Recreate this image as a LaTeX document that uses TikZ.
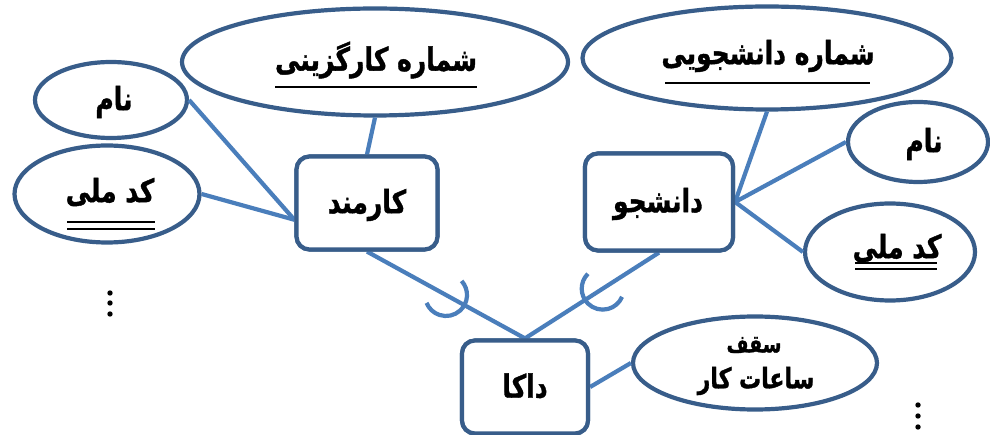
\documentclass[tikz,border=0pt]{standalone}
\usepackage{fontspec}
\usepackage{graphicx}
\usetikzlibrary{shapes.geometric,calc}
\TeXXeTstate=1
\newfontfamily\arabicfont[Script=Arabic, FakeBold=1.3]{DejaVu Sans Bold}
\newcommand\fatext[1]{\scalebox{1}[1.28]{\arabicfont\beginR #1\endR}}
\definecolor{edgeblue}{RGB}{56,93,138}
\definecolor{linkblue}{RGB}{74,126,187}
\tikzset{
  attr/.style={ellipse, draw=edgeblue, line width=4.2pt, fill=white, inner sep=0pt},
  entity/.style={rectangle, rounded corners=13pt, draw=edgeblue, line width=4.2pt, fill=white, inner sep=0pt},
  lbl/.style={inner sep=0pt, font=\fontsize{25}{29}\selectfont},
  midlbl/.style={inner sep=0pt, font=\fontsize{22}{26}\selectfont},
  smalllbl/.style={inner sep=0pt, font=\fontsize{19}{22}\selectfont},
  link/.style={draw=linkblue, line width=4.2pt},
  uline/.style={draw=black, line width=1.8pt},
  hook/.style={draw=linkblue, line width=4.2pt},
  vdot/.style={fill=black}
}
\begin{document}
\begin{tikzpicture}[x=1pt,y=-1pt]
\useasboundingbox (0,0) rectangle (990,435);

% attribute ellipses
\node[attr, minimum width=152pt, minimum height=76pt] (nameL) at (111,100) {};
\node[attr, minimum width=185pt, minimum height=97pt] (codeL) at (107,194) {};
\node[attr, minimum width=386pt, minimum height=107pt] (empno) at (375,62) {};
\node[attr, minimum width=369pt, minimum height=103pt] (stuno) at (767,58) {};
\node[attr, minimum width=140pt, minimum height=80pt] (nameR) at (918,142) {};
\node[attr, minimum width=170pt, minimum height=97pt] (codeR) at (890,252) {};
\node[attr, minimum width=244pt, minimum height=93pt] (hours) at (755,363) {};

% entity boxes
\node[entity, minimum width=141pt, minimum height=93pt] (emp) at (367,203) {};
\node[entity, minimum width=148pt, minimum height=97pt] (stu) at (659,202) {};
\node[entity, minimum width=126pt, minimum height=93pt] (daka) at (525,387) {};

% connectors
\draw[link] (nameL.east) -- (emp.193);
\draw[link] (codeL.east) -- (emp.193);
\draw[link] (empno.south) -- (emp.north);
\draw[link] (stuno.south) -- (stu.east);
\draw[link] (nameR.west) -- (stu.east);
\draw[link] (codeR.west) -- (stu.east);
\draw[link] (emp.south) -- (daka.north);
\draw[link] (stu.south) -- (daka.north);
\draw[link] (daka.east) -- (hours.west);

% half-circle marks on the links to the relationship
\draw[hook] ($(emp.south)!0.5!(daka.north)$) ++(42:21pt) arc[start angle=42, end angle=-158, radius=21pt];
\draw[hook] ($(stu.south)!0.42!(daka.north)$) ++(135:21pt) arc[start angle=135, end angle=337, radius=21pt];

% redraw entity boxes above the links
\node[entity, minimum width=141pt, minimum height=93pt] at (emp) {};
\node[entity, minimum width=148pt, minimum height=97pt] at (stu) {};
\node[entity, minimum width=126pt, minimum height=93pt] at (daka) {};

% labels
\node[lbl] (tNameL) at (114,102) {\fatext{نام}};
\node[lbl] (tCodeL) at (110,192) {\fatext{کد ملی}};
\node[lbl] (tEmpNo) at (376,60) {\fatext{شماره کارگزینی}};
\node[lbl] (tStuNo) at (768,56) {\fatext{شماره دانشجویی}};
\node[lbl] (tNameR) at (924,144) {\fatext{نام}};
\node[lbl] (tCodeR) at (897,248) {\fatext{کد ملی}};
\node[lbl] (tEmp) at (367,205) {\fatext{کارمند}};
\node[lbl] (tStu) at (658,204) {\fatext{دانشجو}};
\node[lbl] (tDaka) at (525,386) {\fatext{داکا}};
\node[smalllbl] (tCap) at (754,345) {\fatext{سقف}};
\node[midlbl] (tHours) at (756,381) {\fatext{ساعات کار}};

% key underlines
\draw[uline] (275,87) -- (477,87);
\draw[uline] (665,83) -- (870,83);
\draw[uline] (67,222) -- (155,222);
\draw[uline] (67,229) -- (155,229);
\draw[uline] (855,263) -- (937,263);
\draw[uline] (855,269) -- (937,269);

% continuation dots
\foreach \yy in {293,303,314} \fill[vdot] (110,\yy) circle[radius=2.7pt];
\foreach \yy in {405,416,427} \fill[vdot] (918,\yy) circle[radius=2.7pt];
\end{tikzpicture}
\end{document}
